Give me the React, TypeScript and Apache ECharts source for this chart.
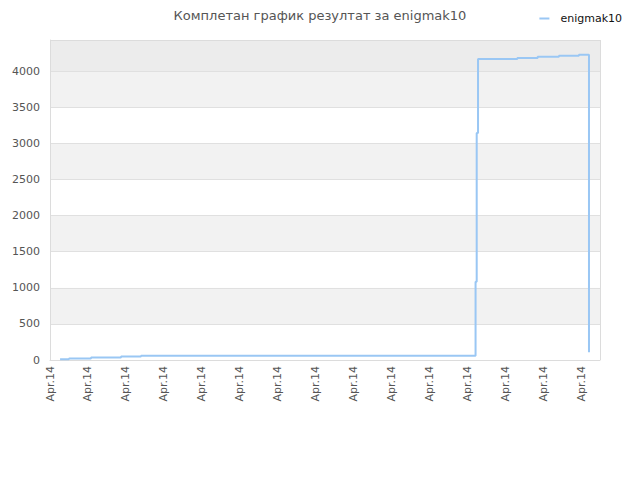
import { useEffect, useRef } from "react";
import * as echarts from "echarts";

// позиција на временској оси (дани од почетка) и резултат
const times = [0.53, 1.0, 2.16, 3.74, 4.79, 22.4, 22.46, 22.53, 24.6, 25.67, 26.79, 27.84, 28.37];
const scores = [10, 20, 35, 48, 60, 1084, 3142, 4166, 4180, 4198, 4212, 4226, 106];
const tickLabel = "Apr.14";
const seriesName = "enigmak10";
const titleText = "Комплетан график резултат за enigmak10";

const FONT = "DejaVu Sans, sans-serif";

function App() {
  const ref = useRef<HTMLDivElement>(null);

  useEffect(() => {
    if (!ref.current) return;
    const chart = echarts.init(ref.current, undefined, { renderer: "svg" });

    const data = times.map((t, i) => [t, scores[i]]);

    chart.setOption({
      animation: false,
      backgroundColor: "#fff",
      textStyle: { fontFamily: FONT },
      title: {
        text: titleText,
        left: "center",
        top: 4,
        textStyle: { fontSize: 13, fontWeight: "normal", color: "#555", fontFamily: FONT },
      },
      legend: {
        right: 13,
        top: 8,
        itemWidth: 10,
        itemHeight: 2,
        icon: "rect",
        textStyle: { fontSize: 11, color: "#111", fontFamily: FONT, padding: [0, 0, 0, 6] },
        data: [seriesName],
      },
      grid: { left: 50, right: 40, top: 40, bottom: 120, show: false },
      xAxis: {
        type: "value",
        min: 0,
        max: 28.95,
        interval: 2,
        axisLine: { show: true, lineStyle: { color: "#dcdcdc" } },
        axisTick: { show: false },
        splitLine: { show: false },
        axisLabel: {
          rotate: 90,
          margin: 6,
          fontSize: 11,
          color: "#555",
          fontFamily: FONT,
          showMaxLabel: false,
          formatter: () => tickLabel,
        },
      },
      yAxis: {
        type: "value",
        min: 0,
        max: 4430,
        interval: 500,
        axisLine: { show: true, lineStyle: { color: "#dcdcdc" } },
        axisTick: { show: false },
        splitLine: { show: true, lineStyle: { color: "#e0e0e0" } },
        splitArea: {
          show: true,
          areaStyle: {
            color: ["#ffffff", "#f2f2f2", "#ffffff", "#f2f2f2", "#ffffff", "#f2f2f2", "#ffffff", "#f2f2f2", "#ececec"],
          },
        },
        axisLabel: {
          margin: 10,
          fontSize: 11,
          color: "#555",
          fontFamily: FONT,
          showMaxLabel: false,
          formatter: (v: number) => String(v),
        },
      },
      series: [
        {
          name: seriesName,
          type: "line",
          step: "end",
          symbol: "none",
          data,
          itemStyle: { color: "#9ac7f4" },
          lineStyle: { color: "#9ac7f4", width: 2 },
          markLine: {
            silent: true,
            symbol: "none",
            label: { show: false },
            lineStyle: { color: "#dcdcdc", type: "solid", width: 1 },
            data: [{ xAxis: 28.95 }, { yAxis: 4430 }],
          },
        },
      ],
    });

    return () => {
      chart.dispose();
    };
  }, []);

  return (
    <div
      ref={ref}
      style={{ position: "absolute", left: 0, top: 0, width: 640, height: 480 }}
    />
  );
}

export default App;
